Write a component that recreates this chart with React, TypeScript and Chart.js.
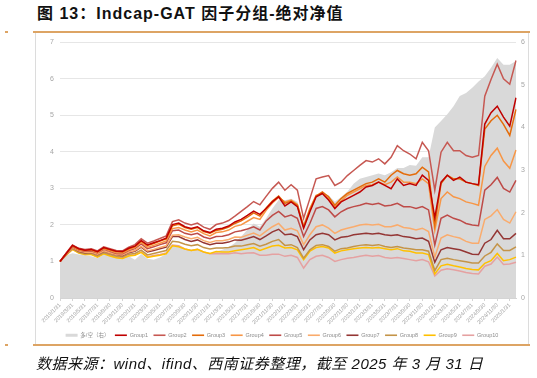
import React, { useEffect, useRef } from 'react';
import { Chart, registerables } from 'chart.js';

Chart.register(...registerables);

const dates = [
  '2019/1/31', '2019/2/28', '2019/3/31', '2019/4/30', '2019/5/31', '2019/6/30', '2019/7/31', '2019/8/31', '2019/9/30', '2019/10/31', '2019/11/30', '2019/12/31',
  '2020/1/31', '2020/2/29', '2020/3/31', '2020/4/30', '2020/5/31', '2020/6/30', '2020/7/31', '2020/8/31', '2020/9/30', '2020/10/31', '2020/11/30', '2020/12/31',
  '2021/1/31', '2021/2/28', '2021/3/31', '2021/4/30', '2021/5/31', '2021/6/30', '2021/7/31', '2021/8/31', '2021/9/30', '2021/10/31', '2021/11/30', '2021/12/31',
  '2022/1/31', '2022/2/28', '2022/3/31', '2022/4/30', '2022/5/31', '2022/6/30', '2022/7/31', '2022/8/31', '2022/9/30', '2022/10/31', '2022/11/30', '2022/12/31',
  '2023/1/31', '2023/2/28', '2023/3/31', '2023/4/30', '2023/5/31', '2023/6/30', '2023/7/31', '2023/8/31', '2023/9/30', '2023/10/31', '2023/11/30', '2023/12/31',
  '2024/1/31', '2024/2/29', '2024/3/31', '2024/4/30', '2024/5/31', '2024/6/30', '2024/7/31', '2024/8/31', '2024/9/30', '2024/10/31', '2024/11/30', '2024/12/31',
  '2025/1/31', '2025/3/31',
];

// 多/空 (right axis)
const longShort = [
  0.86, 1.00, 1.05, 1.02, 1.00, 0.98, 0.94, 1.02, 0.98, 0.94, 0.92, 0.98,
  0.90, 1.03, 0.92, 0.90, 0.95, 1.03, 1.23, 1.21, 1.15, 1.13, 1.15, 1.09,
  1.05, 1.09, 1.13, 1.19, 1.29, 1.44, 1.60, 1.75, 1.67, 1.87, 2.10, 2.30,
  2.29, 2.33, 2.26, 1.79, 2.14, 2.37, 2.45, 2.41, 2.26, 2.37, 2.49, 2.68,
  2.80, 2.84, 2.88, 2.92, 2.88, 2.95, 3.05, 3.05, 3.12, 3.10, 3.30, 3.30,
  4.00, 4.15, 4.31, 4.50, 4.74, 4.81, 4.93, 5.08, 5.20, 5.40, 5.63, 5.47,
  5.47, 5.56,
];

const group1 = [
  1.00, 1.22, 1.44, 1.35, 1.31, 1.33, 1.27, 1.38, 1.33, 1.28, 1.27, 1.36,
  1.42, 1.57, 1.45, 1.51, 1.57, 1.64, 2.01, 2.05, 1.95, 1.90, 1.95, 1.84,
  1.79, 1.88, 1.91, 1.97, 2.08, 2.15, 2.26, 2.38, 2.29, 2.45, 2.63, 2.77,
  2.52, 2.63, 2.50, 1.91, 2.36, 2.77, 2.86, 2.68, 2.45, 2.63, 2.72, 2.81,
  2.90, 3.04, 3.08, 3.17, 3.08, 2.99, 3.26, 3.08, 3.13, 3.08, 3.36, 3.22,
  2.20, 3.17, 3.36, 3.22, 3.31, 3.17, 3.13, 3.10, 4.76, 5.07, 5.25, 4.95,
  4.70, 5.48,
];

const group2 = [
  1.00, 1.23, 1.45, 1.36, 1.33, 1.35, 1.29, 1.40, 1.35, 1.30, 1.29, 1.39,
  1.46, 1.62, 1.50, 1.56, 1.63, 1.70, 2.09, 2.14, 2.05, 2.00, 2.05, 1.94,
  1.88, 2.01, 2.05, 2.12, 2.24, 2.37, 2.50, 2.64, 2.55, 2.78, 3.00, 3.17,
  2.95, 3.10, 2.95, 2.18, 2.72, 3.26, 3.31, 3.35, 3.08, 3.17, 3.35, 3.49,
  3.63, 3.76, 3.72, 3.81, 3.67, 3.85, 4.17, 4.03, 3.94, 3.81, 4.26, 4.03,
  2.95, 3.99, 4.26, 4.03, 4.03, 3.90, 3.85, 3.90, 5.52, 5.98, 6.40, 6.00,
  5.85, 6.50,
];

const group3 = [
  1.00, 1.22, 1.43, 1.34, 1.31, 1.32, 1.26, 1.37, 1.32, 1.27, 1.26, 1.35,
  1.41, 1.56, 1.44, 1.49, 1.56, 1.62, 1.98, 2.02, 1.93, 1.88, 1.93, 1.82,
  1.77, 1.85, 1.88, 1.94, 2.04, 2.11, 2.21, 2.33, 2.24, 2.46, 2.65, 2.79,
  2.59, 2.65, 2.54, 1.95, 2.41, 2.79, 2.90, 2.77, 2.54, 2.72, 2.86, 2.95,
  3.04, 3.13, 3.17, 3.26, 3.17, 3.36, 3.49, 3.40, 3.36, 3.40, 3.58, 3.45,
  2.00, 3.13, 3.36, 3.26, 3.26, 3.17, 3.13, 3.08, 4.62, 4.85, 5.00, 4.75,
  4.45, 5.16,
];

const group4 = [
  1.00, 1.22, 1.42, 1.32, 1.29, 1.31, 1.24, 1.35, 1.30, 1.24, 1.23, 1.32,
  1.38, 1.52, 1.39, 1.44, 1.50, 1.56, 1.90, 1.93, 1.86, 1.81, 1.86, 1.76,
  1.70, 1.79, 1.81, 1.86, 1.96, 2.00, 2.10, 2.20, 2.15, 2.40, 2.60, 2.75,
  2.63, 2.68, 2.56, 1.95, 2.45, 2.81, 2.86, 2.72, 2.50, 2.65, 2.81, 2.90,
  2.99, 3.08, 3.10, 3.17, 3.10, 3.17, 3.31, 3.17, 3.17, 3.13, 3.26, 3.13,
  1.85, 2.72, 2.90, 2.77, 2.72, 2.63, 2.59, 2.54, 3.60, 3.90, 4.10, 3.75,
  3.55, 4.05,
];

const group5 = [
  1.00, 1.21, 1.40, 1.31, 1.28, 1.29, 1.23, 1.33, 1.28, 1.22, 1.21, 1.30,
  1.35, 1.48, 1.35, 1.40, 1.46, 1.51, 1.84, 1.86, 1.77, 1.73, 1.77, 1.67,
  1.62, 1.68, 1.69, 1.73, 1.81, 1.84, 1.89, 1.95, 1.86, 2.11, 2.26, 2.37,
  2.22, 2.27, 2.18, 1.68, 2.04, 2.45, 2.50, 2.41, 2.22, 2.36, 2.45, 2.50,
  2.54, 2.59, 2.56, 2.59, 2.52, 2.54, 2.59, 2.50, 2.50, 2.45, 2.50, 2.41,
  1.45, 2.18, 2.27, 2.18, 2.13, 2.04, 2.00, 1.98, 2.95, 3.10, 3.30, 3.00,
  2.90, 3.22,
];

const group6 = [
  1.00, 1.20, 1.38, 1.29, 1.25, 1.26, 1.20, 1.29, 1.24, 1.19, 1.18, 1.26,
  1.30, 1.41, 1.29, 1.33, 1.38, 1.43, 1.72, 1.73, 1.67, 1.62, 1.66, 1.57,
  1.52, 1.57, 1.57, 1.60, 1.67, 1.66, 1.72, 1.78, 1.70, 1.83, 1.95, 2.04,
  1.86, 1.91, 1.84, 1.46, 1.73, 1.95, 2.00, 1.91, 1.77, 1.86, 1.91, 1.95,
  2.00, 2.02, 2.00, 2.02, 1.95, 1.95, 2.00, 1.93, 1.91, 1.86, 1.91, 1.82,
  1.12, 1.64, 1.73, 1.68, 1.64, 1.55, 1.50, 1.50, 2.15, 2.25, 2.42, 2.15,
  2.05, 2.36,
];

const group7 = [
  1.00, 1.20, 1.38, 1.28, 1.24, 1.25, 1.19, 1.28, 1.23, 1.18, 1.16, 1.24,
  1.28, 1.39, 1.26, 1.30, 1.35, 1.39, 1.68, 1.68, 1.60, 1.55, 1.59, 1.51,
  1.46, 1.50, 1.50, 1.53, 1.59, 1.58, 1.63, 1.68, 1.60, 1.70, 1.81, 1.88,
  1.73, 1.75, 1.68, 1.32, 1.59, 1.73, 1.77, 1.73, 1.59, 1.66, 1.68, 1.73,
  1.75, 1.77, 1.75, 1.77, 1.73, 1.71, 1.73, 1.68, 1.66, 1.62, 1.64, 1.55,
  0.98, 1.32, 1.38, 1.35, 1.32, 1.26, 1.20, 1.19, 1.50, 1.60, 1.85, 1.62,
  1.62, 1.77,
];

const group8 = [
  1.00, 1.19, 1.35, 1.25, 1.21, 1.22, 1.15, 1.24, 1.19, 1.14, 1.12, 1.20,
  1.22, 1.31, 1.18, 1.22, 1.26, 1.30, 1.55, 1.53, 1.47, 1.43, 1.46, 1.38,
  1.34, 1.37, 1.37, 1.38, 1.42, 1.42, 1.46, 1.49, 1.42, 1.47, 1.55, 1.60,
  1.44, 1.46, 1.38, 1.09, 1.32, 1.44, 1.46, 1.41, 1.28, 1.35, 1.37, 1.41,
  1.44, 1.46, 1.44, 1.46, 1.41, 1.38, 1.41, 1.37, 1.35, 1.32, 1.32, 1.28,
  0.75, 1.05, 1.09, 1.05, 1.02, 0.99, 0.96, 0.96, 1.15, 1.25, 1.48, 1.30,
  1.30, 1.40,
];

const group9 = [
  1.00, 1.18, 1.33, 1.23, 1.19, 1.19, 1.12, 1.21, 1.15, 1.10, 1.08, 1.15,
  1.17, 1.25, 1.11, 1.14, 1.17, 1.21, 1.43, 1.40, 1.34, 1.30, 1.33, 1.26,
  1.22, 1.27, 1.26, 1.26, 1.29, 1.32, 1.35, 1.38, 1.30, 1.36, 1.42, 1.44,
  1.37, 1.38, 1.32, 1.05, 1.28, 1.38, 1.41, 1.37, 1.23, 1.29, 1.32, 1.35,
  1.37, 1.38, 1.37, 1.38, 1.35, 1.32, 1.35, 1.29, 1.28, 1.23, 1.23, 1.19,
  0.66, 0.88, 0.92, 0.88, 0.85, 0.81, 0.78, 0.77, 0.95, 1.02, 1.22, 1.02,
  1.05, 1.12,
];

const group10 = [
  1.00, 1.18, 1.33, 1.24, 1.19, 1.20, 1.13, 1.22, 1.16, 1.11, 1.09, 1.16,
  1.18, 1.26, 1.13, 1.16, 1.19, 1.23, 1.45, 1.43, 1.34, 1.30, 1.33, 1.26,
  1.21, 1.22, 1.21, 1.21, 1.24, 1.21, 1.23, 1.24, 1.17, 1.17, 1.20, 1.20,
  1.14, 1.17, 1.11, 0.82, 1.05, 1.14, 1.17, 1.11, 1.00, 1.05, 1.09, 1.11,
  1.14, 1.17, 1.14, 1.16, 1.11, 1.09, 1.11, 1.08, 1.05, 1.02, 1.05, 0.99,
  0.60, 0.76, 0.80, 0.77, 0.74, 0.70, 0.67, 0.66, 0.87, 0.93, 1.12, 0.92,
  0.93, 0.98,
];

const areaLabel = '多/空（右）';
const groupNames = ['Group1', 'Group2', 'Group3', 'Group4', 'Group5', 'Group6', 'Group7', 'Group8', 'Group9', 'Group10'];
const groupSeries = [group1, group2, group3, group4, group5, group6, group7, group8, group9, group10];
const groupColors = ['#C00000', '#C65852', '#E46C0A', '#F79646', '#BE4B48', '#FAAB6C', '#943634', '#C49448', '#FFC000', '#E5A1A1'];
const areaColor = '#D9D9D9';
const leftTicks = [0, 7];
const rightTicks = [0, 6];

const FONT = '"Liberation Sans", Arial, "Noto Sans CJK SC", sans-serif';

export default function App() {
  const canvasRef = useRef<HTMLCanvasElement>(null);

  useEffect(() => {
    document.body.style.margin = '0';
    const canvas = canvasRef.current;
    if (!canvas) return;
    Chart.defaults.font.family = FONT;

    const datasets: any[] = [
      {
        label: areaLabel,
        data: longShort,
        yAxisID: 'y1',
        fill: 'origin',
        backgroundColor: areaColor,
        borderColor: areaColor,
        borderWidth: 0,
        pointRadius: 0,
        tension: 0,
        order: 100,
      },
      ...groupSeries.map((s, i) => ({
        label: groupNames[i],
        data: s,
        yAxisID: 'y',
        fill: false,
        borderColor: groupColors[i],
        backgroundColor: groupColors[i],
        borderWidth: 1.5,
        pointRadius: 0,
        tension: 0,
        order: i + 1,
      })),
    ];

    const chart = new Chart(canvas, {
      type: 'line',
      data: { labels: dates, datasets },
      options: {
        responsive: false,
        animation: false,
        devicePixelRatio: 1,
        layout: { padding: { top: 7, left: 0, right: 0, bottom: 0 } },
        plugins: {
          tooltip: { enabled: false },
          legend: {
            position: 'bottom',
            labels: {
              usePointStyle: true,
              pointStyleWidth: 12,
              boxHeight: 3,
              padding: 5.5,
              color: '#8c8c8c',
              font: { size: 5.5, family: FONT },
              sort: (a: any, b: any) => a.datasetIndex - b.datasetIndex,
              generateLabels: (ch: any) => {
                const items = (Chart.defaults.plugins.legend.labels as any).generateLabels(ch);
                return items.map((it: any) => {
                  const isArea = it.datasetIndex === 0;
                  const col = isArea ? areaColor : groupColors[it.datasetIndex - 1];
                  return {
                    ...it,
                    pointStyle: isArea ? 'rect' : 'line',
                    fillStyle: col,
                    strokeStyle: col,
                    lineWidth: isArea ? 0 : 1.6,
                  };
                });
              },
            },
          },
        },
        scales: {
          x: {
            ticks: {
              autoSkip: false,
              minRotation: 45,
              maxRotation: 45,
              padding: 1,
              color: '#a0a0a0',
              font: { size: 5.5 },
              callback: (_v: any, i: number) => (i % 2 === 0 ? dates[i] : null),
            },
            grid: { display: true, drawOnChartArea: false, drawTicks: true, tickLength: 3, color: '#d4d4d4' },
            border: { display: true, color: '#d4d4d4' },
            afterFit: (s: any) => { s.height = 29; },
          },
          y: {
            position: 'left',
            min: leftTicks[0],
            max: leftTicks[1],
            ticks: { stepSize: 1, color: '#a6a6a6', font: { size: 7 }, padding: 6 },
            grid: { color: '#e6e6e6', drawTicks: false },
            border: { display: false },
            afterFit: (s: any) => { s.width = 24; },
          },
          y1: {
            position: 'right',
            min: rightTicks[0],
            max: rightTicks[1],
            ticks: { stepSize: 1, color: '#a6a6a6', font: { size: 7 }, padding: 5 },
            grid: { drawOnChartArea: false, drawTicks: false },
            border: { display: false },
            afterFit: (s: any) => { s.width = 12; },
          },
        },
      },
    });
    return () => chart.destroy();
  }, []);

  const orange = '#DDA464';
  return (
    <div style={{ position: 'fixed', left: 0, top: 0, width: 537, height: 378, background: '#fff', overflow: 'hidden', fontFamily: FONT }}>
      <div style={{ position: 'absolute', left: 37, top: 4, fontSize: 16, fontWeight: 'bold', lineHeight: '20px', color: '#111', letterSpacing: 1, whiteSpace: 'nowrap' }}>
        图 13：Indcap-GAT 因子分组-绝对净值
      </div>
      <div style={{ position: 'absolute', left: 5, top: 31, width: 3, height: 2, background: orange }} />
      <div style={{ position: 'absolute', left: 33, top: 31, width: 497, height: 2, background: orange }} />
      <div style={{ position: 'absolute', left: 35, top: 33, width: 1, height: 311, background: '#dcdcdc' }} />
      <div style={{ position: 'absolute', left: 528, top: 33, width: 1, height: 311, background: '#dcdcdc' }} />
      <canvas ref={canvasRef} width={492} height={316} style={{ position: 'absolute', left: 36, top: 32, width: 492, height: 316 }} />
      <div style={{ position: 'absolute', left: 5, top: 344, width: 3, height: 2, background: orange }} />
      <div style={{ position: 'absolute', left: 33, top: 344, width: 497, height: 2, background: orange }} />
      <div style={{ position: 'absolute', left: 36, top: 354, fontSize: 15, fontStyle: 'italic', lineHeight: '20px', color: '#111', letterSpacing: 0.5, whiteSpace: 'nowrap' }}>
        数据来源：wind、ifind、西南证券整理，截至 2025 年 3 月 31 日
      </div>
    </div>
  );
}
